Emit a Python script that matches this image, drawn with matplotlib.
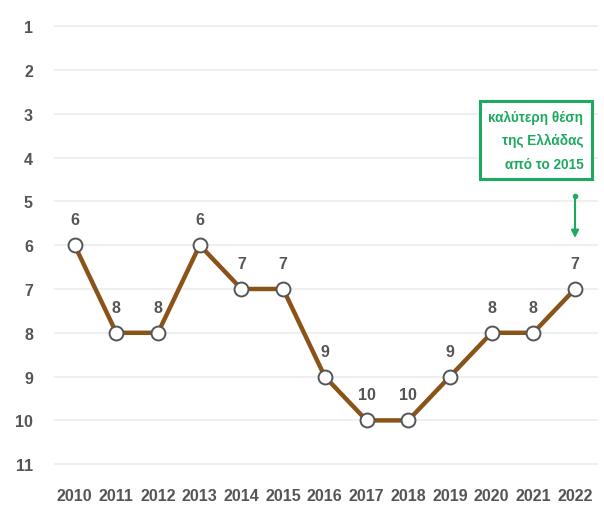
import matplotlib
matplotlib.use("Agg")
import matplotlib.pyplot as plt

years = [2010, 2011, 2012, 2013, 2014, 2015, 2016, 2017, 2018, 2019, 2020, 2021, 2022]
ranks = [6, 8, 8, 6, 7, 7, 9, 10, 10, 9, 8, 8, 7]
ytick_values = list(range(1, 12))
note_text = "καλύτερη θέση\nτης Ελλάδας\nαπό το 2015"

plt.rcParams['font.family'] = ['Liberation Sans', 'DejaVu Sans']

fig = plt.figure(figsize=(6.04, 5.06), dpi=100)
ax = fig.add_axes([0.089, 0.059, 0.901, 0.909])

line_color = '#8a5419'
green = '#1daa5f'
text_gray = '#555555'

ax.plot(years, ranks, color=line_color, lw=3.2, zorder=3,
        marker='o', markersize=10, markerfacecolor='white',
        markeredgecolor='#555555', markeredgewidth=1.4)

for x, y in zip(years, ranks):
    ax.annotate(str(y), (x, y), xytext=(0, 13), textcoords='offset points',
                ha='center', va='bottom', fontsize=11.5, fontweight='bold',
                color=text_gray)

ax.set_xlim(2009.5, 2022.55)
ax.set_ylim(11.25, 0.75)
ax.set_yticks(ytick_values)
ax.set_xticks(years)
ax.set_xticklabels([str(y) for y in years])
ax.tick_params(axis='both', length=0, labelsize=11.5, colors=text_gray)
for lab in ax.get_xticklabels() + ax.get_yticklabels():
    lab.set_fontweight('bold')
ax.tick_params(axis='y', pad=15)
ax.tick_params(axis='x', pad=9)

ax.grid(axis='y', color='#ececec', lw=1.2)
ax.set_axisbelow(True)
for s in ax.spines.values():
    s.set_visible(False)

ax.text(2022.2, 3.6, note_text, ha='right', va='center', fontsize=9.8,
        fontweight='bold', color=green, linespacing=1.85,
        bbox=dict(boxstyle='square,pad=0.65', fc='white', ec=green, lw=2.2))
ax.annotate('', xy=(2022, 5.9), xytext=(2022, 4.88),
            arrowprops=dict(arrowstyle='-|>', color=green, lw=1.5, mutation_scale=11))
ax.plot([2022], [4.88], marker='o', markersize=3, color=green)

fig.savefig('out.png', dpi=100)
